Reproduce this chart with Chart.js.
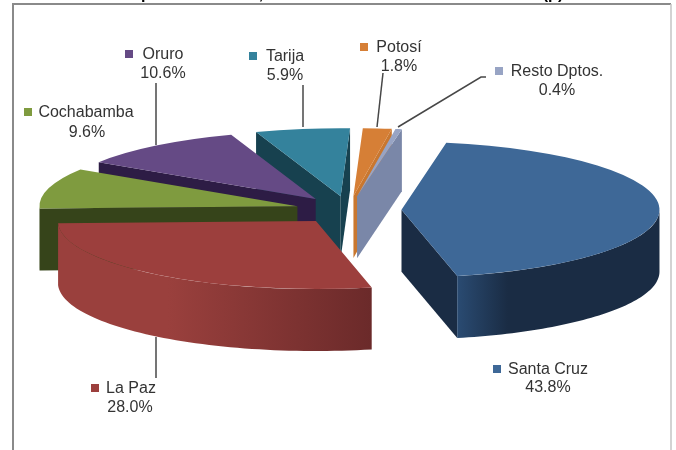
<!DOCTYPE html>
<html>
<head>
<meta charset="utf-8">
<style>
  html, body { margin: 0; padding: 0; background: #fff; }
  #wrap { width: 676px; height: 450px; position: relative; }
  canvas { filter: blur(0.5px); }
</style>
</head>
<body>
<div id="wrap"><canvas id="pie"></canvas></div>
<script src="https://cdn.jsdelivr.net/npm/chart.js@4"></script>
<script>
// Data
var categories = ['Santa Cruz', 'La Paz', 'Cochabamba', 'Oruro', 'Tarija', 'Potosí', 'Resto Dptos.'];
var shares = [43.8, 28.0, 9.6, 10.6, 5.9, 1.8, 0.4];
var shareLabels = ['43.8%', '28.0%', '9.6%', '10.6%', '5.9%', '1.8%', '0.4%'];

// Colours per slice
var topColors = ['#3e6897', '#9c3f3d', '#7f9b3f', '#654a85', '#34829c', '#d67f36', '#98a4c4'];
var wallLeft = ['#2a4b72', '#9a403d', '#36441a', '#2d1c45', '#17414f', '#c9772f', '#7a87a8'];
var wallRight = ['#1a2c44', '#6b2a2a', '#36441a', '#2d1c45', '#17414f', '#c9772f', '#7a87a8'];
// Where the rim shading starts and stops along the rim, left to right
var rimFade = [[0, 0.25], [0.35, 1], [0, 1], [0, 1], [0, 1], [0, 1], [0, 1]];

// Back to front
var paintOrder = [4, 5, 6, 3, 2, 0, 1];

// Squash of the pie plane, height of the extrusion, how far slices pull out
var squash = 68 / 258;
var depth = 62;
var explode = 53;

// Label layout: key box x,y then text lines centre
var labelBoxes = [
    { box: [493, 365], name: [548, 370], value: [548, 388] },
    { box: [91, 384], name: [131, 389], value: [130, 408] },
    { box: [24, 108], name: [86, 113], value: [87, 133] },
    { box: [125, 50], name: [163, 55], value: [163, 74] },
    { box: [249, 52], name: [285, 57], value: [285, 76] },
    { box: [360, 43], name: [399, 48], value: [399, 67] },
    { box: [495, 67], name: [557, 72], value: [557, 91] }
];
var leaders = [
    [[156, 83], [156, 145]],
    [[303, 85], [303, 127]],
    [[383, 73], [377, 127]],
    [[486, 77], [481, 77], [398, 127]],
    [[156, 337], [156, 378]]
];

// Bits of the cropped title that still show along the top edge
var titleBits = [['p', 146], [',', 261], ['(p)', 553]];

function sliceGeometry(arc) {
    var p = arc.getProps(['x', 'y', 'startAngle', 'endAngle', 'outerRadius'], true);
    var mid = (p.startAngle + p.endAngle) / 2;
    return {
        cy: p.y,
        dx: Math.cos(mid) * explode,
        ox: p.x + Math.cos(mid) * explode,
        oy: Math.sin(mid) * explode,
        r: p.outerRadius,
        a0: p.startAngle,
        a1: p.endAngle
    };
}

function pt(g, a, r) {
    return [g.ox + Math.cos(a) * r, g.cy + (g.oy + Math.sin(a) * r) * squash];
}

function fillWall(ctx, pts, fill) {
    ctx.beginPath();
    pts.forEach(function (q, i) {
        if (i === 0) ctx.moveTo(q[0], q[1]); else ctx.lineTo(q[0], q[1]);
    });
    for (var i = pts.length - 1; i >= 0; i--) ctx.lineTo(pts[i][0], pts[i][1] + depth);
    ctx.closePath();
    ctx.fillStyle = fill;
    ctx.fill();
}

var pie3d = {
    id: 'pie3d',
    beforeDatasetsDraw: function (chart) {
        var ctx = chart.ctx;
        var arcs = chart.getDatasetMeta(0).data;
        paintOrder.forEach(function (i) {
            var arc = arcs[i];
            var g = sliceGeometry(arc);
            var apex = pt(g, 0, 0);
            var start = pt(g, g.a0, g.r);
            var end = pt(g, g.a1, g.r);

            // radial walls, only where they face the viewer
            if (Math.cos(g.a0) < 0) fillWall(ctx, [start, apex], wallLeft[i]);
            if (Math.cos(g.a1) > 0) fillWall(ctx, [apex, end], wallRight[i]);

            // outer wall, lower half of the rim only
            var from = Math.max(g.a0, 0);
            var to = Math.min(g.a1, Math.PI);
            if (to > from) {
                var rim = [];
                for (var s = 0; s <= 60; s++) rim.push(pt(g, from + (to - from) * s / 60, g.r));
                var grad = ctx.createLinearGradient(rim[rim.length - 1][0], 0, rim[0][0], 0);
                grad.addColorStop(rimFade[i][0], wallLeft[i]);
                grad.addColorStop(rimFade[i][1], wallRight[i]);
                fillWall(ctx, rim, grad);
            }

            // top face is the library's own arc, squashed and pulled out
            ctx.save();
            ctx.translate(g.dx, g.cy + g.oy * squash);
            ctx.scale(1, squash);
            ctx.translate(0, -g.cy);
            arc.draw(ctx, chart.chartArea);
            ctx.restore();
        });
        return false;
    },
    afterDraw: function (chart) {
        var ctx = chart.ctx;
        ctx.save();

        // frame
        ctx.strokeStyle = '#8a8a8a';
        ctx.lineWidth = 2;
        ctx.beginPath();
        ctx.moveTo(13, 450);
        ctx.lineTo(13, 4);
        ctx.lineTo(671, 4);
        ctx.stroke();
        ctx.strokeStyle = '#c4c4c4';
        ctx.lineWidth = 1.5;
        ctx.beginPath();
        ctx.moveTo(671, 4);
        ctx.lineTo(671, 450);
        ctx.stroke();

        // title is cut off by the top of the picture
        ctx.fillStyle = '#000000';
        ctx.font = 'bold 16px "Liberation Sans"';
        ctx.textAlign = 'center';
        ctx.textBaseline = 'alphabetic';
        titleBits.forEach(function (b) {
            ctx.fillText(b[0], b[1], -1);
        });

        // leader lines
        ctx.strokeStyle = '#474747';
        ctx.lineWidth = 1.5;
        leaders.forEach(function (line) {
            ctx.beginPath();
            line.forEach(function (q, i) {
                if (i === 0) ctx.moveTo(q[0], q[1]); else ctx.lineTo(q[0], q[1]);
            });
            ctx.stroke();
        });

        // labels
        ctx.font = '16px "Liberation Sans"';
        ctx.textAlign = 'center';
        ctx.textBaseline = 'middle';
        categories.forEach(function (name, i) {
            var l = labelBoxes[i];
            ctx.fillStyle = topColors[i];
            ctx.fillRect(l.box[0], l.box[1], 8, 8);
            ctx.fillStyle = '#333333';
            ctx.fillText(name, l.name[0], l.name[1]);
            ctx.fillText(shareLabels[i], l.value[0], l.value[1]);
        });
        ctx.restore();
    }
};

new Chart(document.getElementById('pie'), {
    type: 'pie',
    data: {
        labels: categories,
        datasets: [{
            data: shares,
            backgroundColor: topColors,
            borderWidth: 0
        }]
    },
    options: {
        responsive: true,
        maintainAspectRatio: false,
        animation: false,
        rotation: 10,
        radius: 258,
        layout: { padding: { left: 21, bottom: 30 } },
        plugins: { legend: { display: false }, tooltip: { enabled: false } }
    },
    plugins: [pie3d]
});
</script>
</body>
</html>
